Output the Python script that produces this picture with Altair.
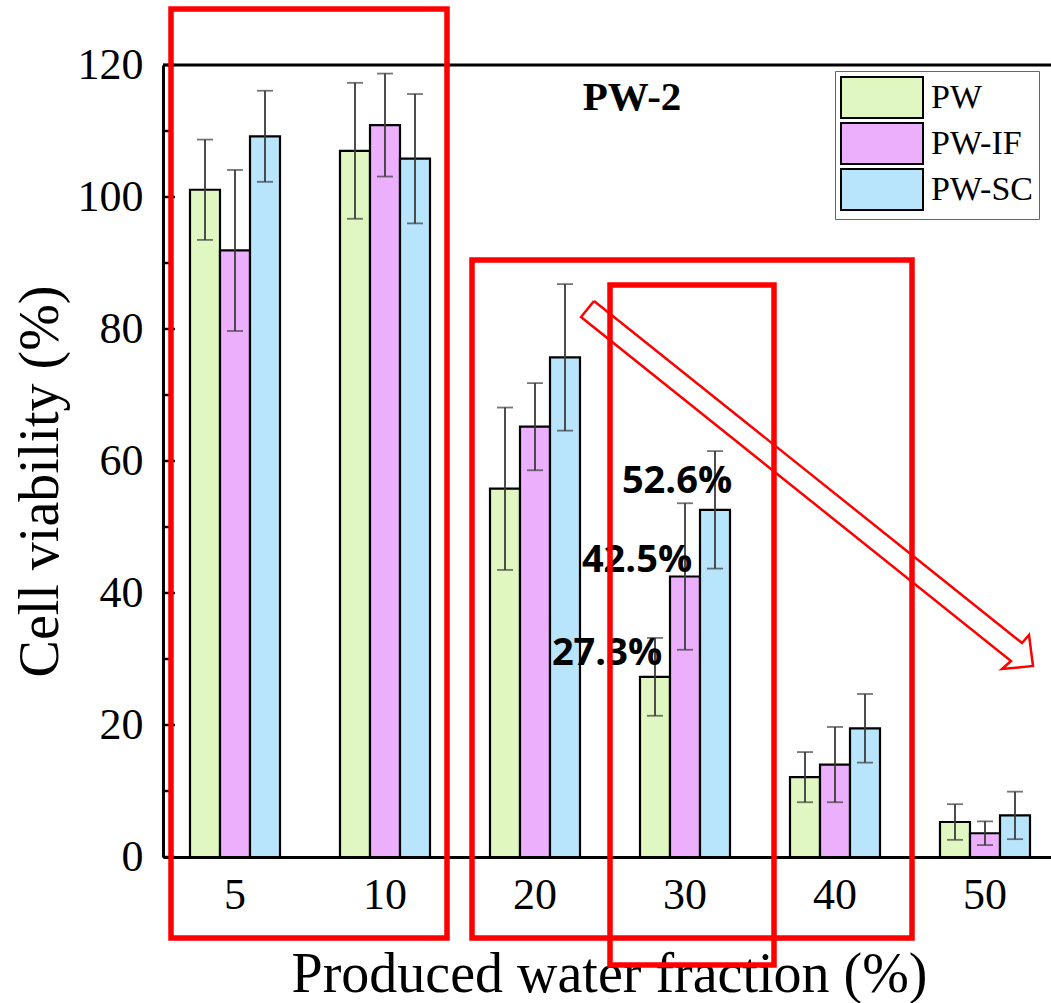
import altair as alt
import pandas as pd

# ---------------- data ----------------
conc = ["5", "10", "20", "30", "40", "50"]
series = ["PW", "PW-IF", "PW-SC"]
colors = ["#E1F7C1", "#ECAFFC", "#B9E5FC"]

pw = [101.1, 107.0, 55.8, 27.3, 12.1, 5.3]
pw_err = [7.6, 10.3, 12.3, 5.9, 3.8, 2.7]
pwif = [91.9, 110.9, 65.2, 42.5, 14.0, 3.6]
pwif_err = [12.2, 7.8, 6.6, 11.1, 5.7, 1.8]
pwsc = [109.2, 105.8, 75.7, 52.6, 19.5, 6.3]
pwsc_err = [6.9, 9.8, 11.1, 8.9, 5.2, 3.6]

y_major = [0, 20, 40, 60, 80, 100, 120]
y_minor = [10, 30, 50, 70, 90, 110]
panel_label = ["PW-2"]

# annotation shapes (page pixel coordinates)
boxes = [
    {"x1": 171, "y1": 9, "x2": 447, "y2": 938},
    {"x1": 472, "y1": 260, "x2": 912, "y2": 938},
    {"x1": 610, "y1": 285, "x2": 774, "y2": 965},
]
arrow = [(594, 301), (1022, 643), (1029, 635), (1033, 666),
         (1002, 669), (1011, 661), (581, 317), (594, 301)]

# ---------------- tables ----------------
vals = {"PW": pw, "PW-IF": pwif, "PW-SC": pwsc}
errs = {"PW": pw_err, "PW-IF": pwif_err, "PW-SC": pwsc_err}
rows = []
for s in series:
    for i, c in enumerate(conc):
        v, e = vals[s][i], errs[s][i]
        rows.append({"conc": c, "series": s, "value": v, "lo": v - e, "hi": v + e})
df = pd.DataFrame(rows)

W, H = 888, 792
SERIF = "Liberation Serif"

xscale = alt.Scale(domain=conc, range=[0, 894], paddingInner=0.4, paddingOuter=0.18)
yscale = alt.Scale(domain=[0, 120], nice=False, zero=True)
offscale = alt.Scale(domain=series, paddingInner=0, paddingOuter=0)

xaxis = alt.Axis(
    title="Produced water fraction (%)", labelAngle=0, labelFont=SERIF, labelFontSize=44,
    labelColor="black", labelPadding=16, ticks=False, domainColor="black", domainWidth=3,
    titleFont=SERIF, titleFontSize=56, titleFontWeight="normal", titleColor="black",
    titleX=446, titleY=134, titleBaseline="alphabetic", titleAlign="center", grid=False,
)
yaxis = alt.Axis(
    title="Cell viability (%)", values=y_major, ticks=False, grid=False, labelFont=SERIF,
    labelFontSize=44, labelColor="black", labelPadding=20, domainColor="black", domainWidth=3,
    titleFont=SERIF, titleFontSize=56, titleFontWeight="normal", titleColor="black",
    titleX=-123, titleY=416, titleAngle=270, titleBaseline="middle", titleAlign="center",
)


def X(field="conc"):
    return alt.X(f"{field}:N", scale=xscale, axis=xaxis, sort=conc)


def Y(field):
    return alt.Y(f"{field}:Q", scale=yscale, axis=yaxis)


def XO():
    return alt.XOffset("series:N", scale=offscale, sort=series)


base = alt.Chart(df)

bars = base.mark_bar(stroke="black", strokeWidth=2.2, opacity=1).encode(
    x=X(), xOffset=XO(), y=Y("value"),
    fill=alt.Fill(
        "series:N", scale=alt.Scale(domain=series, range=colors), sort=series,
        legend=alt.Legend(
            title=None, orient="none", legendX=672, legendY=6,
            symbolType="M-1,-1H3V1H-1Z", symbolSize=1681, symbolStrokeColor="black",
            symbolStrokeWidth=2, symbolOpacity=1, labelFont=SERIF, labelFontSize=34,
            labelColor="black", labelOffset=48, labelLimit=400, strokeColor="#666",
            fillColor="white", padding=5, rowPadding=-3.5,
        ),
    ),
)

ebar = base.mark_rule(color="#3a3a3a", strokeWidth=1.8).encode(
    x=X(), xOffset=XO(), y=Y("lo"), y2="hi:Q"
)
cap_hi = base.mark_tick(color="#3a3a3a", size=16, thickness=1.8).encode(
    x=X(), xOffset=XO(), y=Y("hi")
)
cap_lo = base.mark_tick(color="#3a3a3a", size=16, thickness=1.8).encode(
    x=X(), xOffset=XO(), y=Y("lo")
)


def pct_label(s, idx, dx, dy):
    d = pd.DataFrame([{"conc": conc[idx], "series": s, "value": vals[s][idx],
                       "label": f"{vals[s][idx]}%"}])
    return alt.Chart(d).mark_text(
        font="Open Sans", fontWeight="bold", fontSize=38, color="black",
        align="center", baseline="alphabetic", dx=dx, dy=dy,
    ).encode(x=X(), xOffset=XO(), y=Y("value"), text="label:N")


lab_sc = pct_label("PW-SC", 3, -38, -17)
lab_if = pct_label("PW-IF", 3, -48, -5)
lab_pw = pct_label("PW", 3, -48, -12)

title_txt = alt.Chart(pd.DataFrame({"t": panel_label})).mark_text(
    font=SERIF, fontWeight="bold", fontSize=41, color="black", align="center",
    baseline="alphabetic",
).encode(x=alt.value(469), y=alt.value(45), text="t:N")

maj = alt.Chart(pd.DataFrame({"tick": y_major})).mark_rule(color="black", strokeWidth=2.5).encode(
    y=Y("tick"), x=alt.value(0), x2=alt.value(12)
)
mino = alt.Chart(pd.DataFrame({"tick": y_minor})).mark_rule(color="black", strokeWidth=2.5).encode(
    y=Y("tick"), x=alt.value(0), x2=alt.value(7)
)
top_line = alt.Chart(pd.DataFrame({"tick": [120]})).mark_rule(color="black", strokeWidth=3).encode(
    y=Y("tick"), x=alt.value(0), x2=alt.value(W)
)

main = alt.layer(bars, ebar, cap_hi, cap_lo, lab_sc, lab_if, lab_pw, title_txt, maj, mino, top_line)

# annotation layer with identity (page-pixel) scales
ax = alt.Scale(domain=[0, 1051], range=[-163, 888], nice=False, zero=False)
ay = alt.Scale(domain=[0, 1003], range=[-65, 938], nice=False, zero=False)

box_layer = alt.Chart(pd.DataFrame(boxes)).mark_rect(
    fillOpacity=0, stroke="#FF0000", strokeWidth=5.5
).encode(
    x=alt.X("x1:Q", scale=ax, axis=None), x2="x2:Q",
    y=alt.Y("y1:Q", scale=ay, axis=None), y2="y2:Q",
)
arrow_df = pd.DataFrame([{"i": i, "px": p[0], "py": p[1]} for i, p in enumerate(arrow)])
arrow_layer = alt.Chart(arrow_df).mark_line(color="#FF0000", strokeWidth=2.5).encode(
    x=alt.X("px:Q", scale=ax, axis=None), y=alt.Y("py:Q", scale=ay, axis=None),
    order="i:Q",
)
annot = alt.layer(box_layer, arrow_layer)

chart = alt.layer(main, annot).resolve_scale(x="independent", y="independent").properties(
    width=W, height=H,
    autosize=alt.AutoSizeParams(type="none"),
    padding={"left": 163, "top": 65, "right": 0, "bottom": 146},
).configure_view(stroke=None).configure(background="white").configure_axis(
    labelFont=SERIF, titleFont=SERIF
)

chart.save("out.html", embed_options={"renderer": "svg", "actions": False})
